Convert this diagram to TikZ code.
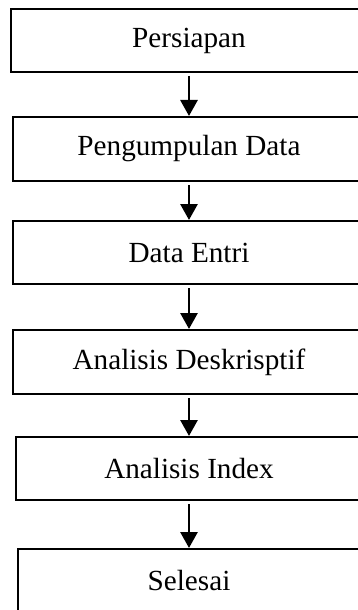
\documentclass[tikz,border=0pt]{standalone}
\usepackage{fontspec}
\setmainfont{Liberation Serif}
\usepackage{tikz}
\usetikzlibrary{arrows.meta,positioning}
\tikzset{
  kotak/.style={draw=black,fill=white,line width=1pt,align=center,font=\fontsize{14.6}{17}\selectfont,inner sep=0pt,minimum height=31.5pt},
  panah/.style={-{Triangle[length=8pt,width=8.5pt]},line width=1.4pt,black,shorten <=1.5pt},
}
\begin{document}
\begin{tikzpicture}[x=0.5pt,y=-0.5pt]
  \clip (0,0) rectangle (358,610);
  \useasboundingbox (0,0) rectangle (358,610);
  \node[kotak,minimum width=178pt] (persiapan) at (189,40.5) {Persiapan};
  \node[kotak,minimum width=176pt,minimum height=32pt] (kumpul) at (189,149) {Pengumpulan Data};
  \node[kotak,minimum width=176pt] (entri) at (189,252.5) {Data Entri};
  \node[kotak,minimum width=176pt,minimum height=32pt] (deskriptif) at (189,362) {Analisis Deskrisptif};
  \node[kotak,minimum width=173pt] (indeks) at (189,468.5) {Analisis Index};
  \node[kotak,minimum width=171pt] (selesai) at (189,580.5) {Selesai};
  \draw[panah] (persiapan) -- (kumpul);
  \draw[panah] (kumpul) -- (entri);
  \draw[panah] (entri) -- (deskriptif);
  \draw[panah] (deskriptif) -- (indeks);
  \draw[panah] (indeks) -- (selesai);
\end{tikzpicture}
\end{document}
